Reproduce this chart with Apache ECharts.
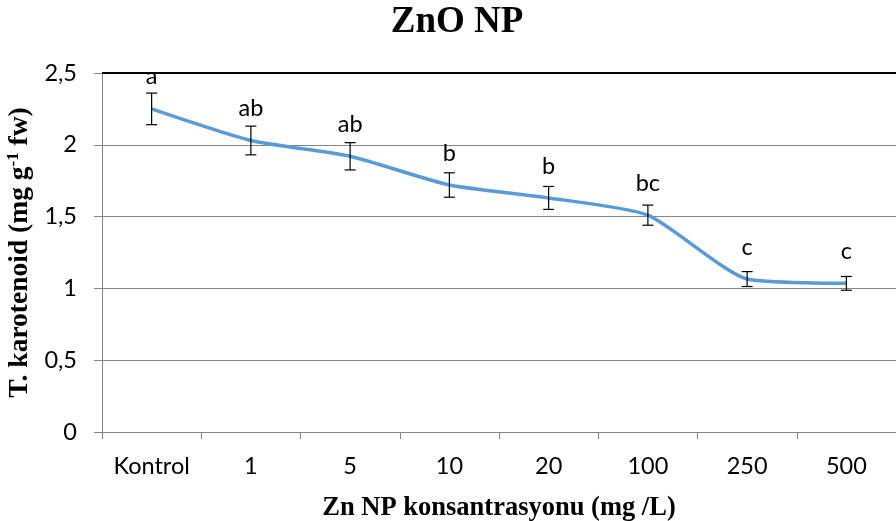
<!DOCTYPE html>
<html>
<head>
<meta charset="utf-8">
<script src="https://cdn.jsdelivr.net/npm/echarts@6/dist/echarts.min.js"></script>
<style>
html,body{margin:0;padding:0;background:#fff;}
#main{width:896px;height:521px;}
</style>
</head>
<body>
<div id="main"></div>
<script>
// ---- data ----
var categories = ['Kontrol', '1', '5', '10', '20', '100', '250', '500'];
var meanValues = [2.25, 2.03, 1.92, 1.72, 1.63, 1.51, 1.065, 1.035];
var errorValues = [0.11, 0.10, 0.095, 0.085, 0.08, 0.07, 0.052, 0.048];
var letterLabels = ['a', 'ab', 'ab', 'b', 'b', 'bc', 'c', 'c'];
var yTicks = [0, 0.5, 1, 1.5, 2, 2.5];

var chart = echarts.init(document.getElementById('main'), null, {renderer: 'canvas'});

var errData = meanValues.map(function (v, i) { return [i, v, errorValues[i]]; });

var labelFont = 'Lato, "Open Sans", sans-serif';
var serifFont = '"Liberation Serif", "DejaVu Serif", serif';

var option = {
  animation: false,
  backgroundColor: '#fff',
  title: {
    text: 'ZnO NP',
    left: 452,
    top: -1,
    textAlign: 'center',
    textStyle: {fontFamily: serifFont, fontWeight: 'bold', fontSize: 37, color: '#000'}
  },
  grid: {left: 102, right: 0, top: 73, bottom: 89, containLabel: false, outerBoundsMode: 'none'},
  xAxis: {
    type: 'category',
    data: categories,
    boundaryGap: true,
    axisLine: {lineStyle: {color: '#868686', width: 1}},
    axisTick: {show: true, interval: 0, alignWithLabel: false, length: 7, lineStyle: {color: '#868686'}},
    axisLabel: {interval: 0, hideOverlap: false, color: '#000', fontFamily: labelFont, fontSize: 23.5, margin: 22},
    name: 'Zn NP konsantrasyonu (mg /L)',
    nameLocation: 'middle',
    nameGap: 63,
    nameTextStyle: {fontFamily: serifFont, fontWeight: 'bold', fontSize: 26.5, color: '#000'}
  },
  yAxis: {
    type: 'value',
    min: yTicks[0],
    max: yTicks[yTicks.length - 1],
    interval: yTicks[1] - yTicks[0],
    axisLine: {show: true, lineStyle: {color: '#868686', width: 1}},
    axisTick: {show: true, length: 8, lineStyle: {color: '#868686'}},
    axisLabel: {
      color: '#000', fontFamily: labelFont, fontSize: 23.5, margin: 25,
      formatter: function (v) { return String(v).replace('.', ','); }
    },
    splitLine: {show: true, lineStyle: {color: '#868686', width: 1}},
    name: 'T. karotenoid (mg g{sup|-1} fw)',
    nameLocation: 'middle',
    nameGap: 66,
    nameTextStyle: {
      fontFamily: serifFont, fontWeight: 'bold', fontSize: 27.5, color: '#000',
      rich: {
        sup: {fontFamily: serifFont, fontWeight: 'bold', fontSize: 17, color: '#000', verticalAlign: 'top', lineHeight: 17}
      }
    }
  },
  series: [
    {
      type: 'line',
      data: meanValues,
      smooth: 0.2,
      symbol: 'none',
      lineStyle: {color: '#5B9BD5', width: 3.5},
      z: 3,
      markLine: {
        silent: true,
        symbol: 'none',
        label: {show: false},
        lineStyle: {color: '#000', width: 2, type: 'solid'},
        data: [{yAxis: yTicks[yTicks.length - 1]}]
      }
    },
    {
      type: 'custom',
      z: 5,
      data: errData,
      renderItem: function (params, api) {
        var x = api.value(0), y = api.value(1), e = api.value(2);
        var top = api.coord([x, y + e]);
        var bot = api.coord([x, y - e]);
        var mid = api.coord([x, y]);
        var hw = 5.5;
        var st = {stroke: '#000', lineWidth: 1.2};
        return {
          type: 'group',
          children: [
            {type: 'line', shape: {x1: top[0], y1: top[1], x2: bot[0], y2: bot[1]}, style: st},
            {type: 'line', shape: {x1: top[0] - hw, y1: top[1], x2: top[0] + hw, y2: top[1]}, style: st},
            {type: 'line', shape: {x1: bot[0] - hw, y1: bot[1], x2: bot[0] + hw, y2: bot[1]}, style: st},
            {type: 'text', x: mid[0], y: mid[1] - 32,
              style: {text: letterLabels[params.dataIndex], fill: '#000', font: '23.5px ' + labelFont,
                align: 'center', verticalAlign: 'middle'}}
          ]
        };
      }
    }
  ]
};
chart.setOption(option);
</script>
</body>
</html>
